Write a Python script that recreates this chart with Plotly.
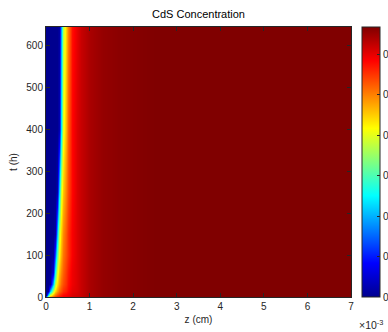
import plotly.graph_objects as go
import numpy as np

# depth positions (cm)
z_cm = [0, 0.05e-3, 0.10e-3, 0.15e-3, 0.20e-3, 0.25e-3, 0.30e-3, 0.35e-3, 0.40e-3,
        0.45e-3, 0.50e-3, 0.60e-3, 0.70e-3, 0.80e-3, 1.0e-3, 1.3e-3, 1.7e-3,
        2.5e-3, 4.0e-3, 7.0e-3]
# time (h)
t_h = [0, 5, 15, 30, 60, 100, 150, 250, 400, 645]
# concentration relative to the maximum (rows: t, columns: z)
conc_rel = [
    [0.30, 0.65, 0.75, 0.80, 0.83, 0.85, 0.86, 0.87, 0.88, 0.89, 0.90, 0.91, 0.92, 0.93, 0.96, 0.98, 0.99, 1.0, 1.0, 1.0],
    [0.00, 0.35, 0.60, 0.70, 0.76, 0.80, 0.83, 0.85, 0.87, 0.88, 0.89, 0.91, 0.92, 0.93, 0.96, 0.98, 0.99, 1.0, 1.0, 1.0],
    [0.00, 0.02, 0.30, 0.55, 0.66, 0.72, 0.77, 0.80, 0.83, 0.85, 0.87, 0.90, 0.91, 0.93, 0.96, 0.98, 0.99, 1.0, 1.0, 1.0],
    [0.00, 0.00, 0.02, 0.30, 0.55, 0.65, 0.72, 0.77, 0.80, 0.83, 0.86, 0.89, 0.91, 0.93, 0.96, 0.98, 0.99, 1.0, 1.0, 1.0],
    [0.00, 0.00, 0.00, 0.08, 0.38, 0.58, 0.68, 0.74, 0.78, 0.82, 0.85, 0.89, 0.91, 0.93, 0.96, 0.98, 0.99, 1.0, 1.0, 1.0],
    [0.00, 0.00, 0.00, 0.01, 0.20, 0.45, 0.62, 0.70, 0.76, 0.80, 0.83, 0.88, 0.91, 0.93, 0.96, 0.98, 0.99, 1.0, 1.0, 1.0],
    [0.00, 0.00, 0.00, 0.00, 0.02, 0.30, 0.56, 0.67, 0.74, 0.79, 0.83, 0.88, 0.91, 0.93, 0.96, 0.98, 0.99, 1.0, 1.0, 1.0],
    [0.00, 0.00, 0.00, 0.00, 0.00, 0.03, 0.33, 0.58, 0.68, 0.75, 0.80, 0.87, 0.91, 0.93, 0.96, 0.98, 0.99, 1.0, 1.0, 1.0],
    [0.00, 0.00, 0.00, 0.00, 0.00, 0.00, 0.04, 0.35, 0.60, 0.70, 0.78, 0.87, 0.91, 0.93, 0.96, 0.98, 0.99, 1.0, 1.0, 1.0],
    [0.00, 0.00, 0.00, 0.00, 0.00, 0.00, 0.02, 0.28, 0.55, 0.67, 0.75, 0.86, 0.90, 0.93, 0.96, 0.98, 0.99, 1.0, 1.0, 1.0],
]
c_max = 0.667
x_tick_vals = [0, 1e-3, 2e-3, 3e-3, 4e-3, 5e-3, 6e-3, 7e-3]
x_tick_text = ['0', '1', '2', '3', '4', '5', '6', '7']
y_tick_vals = [0, 100, 200, 300, 400, 500, 600]
cb_tick_vals = [0, 0.1, 0.2, 0.3, 0.4, 0.5, 0.6]

z = (np.array(conc_rel) * c_max).tolist()

jet = [[0, 'rgb(0,0,143)'], [0.125, 'rgb(0,0,255)'], [0.375, 'rgb(0,255,255)'],
       [0.625, 'rgb(255,255,0)'], [0.875, 'rgb(255,0,0)'], [1, 'rgb(128,0,0)']]

W, H = 388, 332
L, R, T, B = 46, 37, 27, 35
pw = W - L - R
FONT = 'Liberation Sans, Arial, sans-serif'

fig = go.Figure(go.Heatmap(
    x=z_cm, y=t_h, z=z, zmin=0, zmax=c_max, zsmooth='best', colorscale=jet,
    colorbar=dict(
        x=(362 - L) / pw, xanchor='left', xref='paper',
        y=0, yanchor='bottom', len=1, lenmode='fraction',
        thickness=18, outlinewidth=1, outlinecolor='#262626',
        tickvals=cb_tick_vals, ticks='inside', ticklen=3, tickcolor='#262626',
        tickfont=dict(family=FONT, size=10, color='#262626'),
        ypad=0, xpad=0,
    ),
))

axis_common = dict(showline=True, linecolor='#262626', linewidth=1, mirror='ticks',
                   ticks='inside', ticklen=4, tickcolor='#262626', showgrid=False,
                   zeroline=False, automargin=False,
                   tickfont=dict(family=FONT, size=10, color='#262626'))

fig.update_layout(
    width=W, height=H,
    margin=dict(l=L, r=R, t=T, b=B, autoexpand=False),
    paper_bgcolor='white', plot_bgcolor='white',
    title=dict(text='CdS Concentration', x=(L + pw / 2) / W, xanchor='center',
               y=1 - 14 / H, yanchor='middle',
               font=dict(family=FONT, size=11, color='#000000')),
    xaxis=dict(range=[0, 7e-3], tickvals=x_tick_vals, ticktext=x_tick_text,
               title=dict(text='z (cm)', standoff=4,
                          font=dict(family=FONT, size=10, color='#262626')),
               **axis_common),
    yaxis=dict(range=[0, 643], tickvals=y_tick_vals,
               title=dict(text='t (h)', standoff=6,
                          font=dict(family=FONT, size=10, color='#262626')),
               **axis_common),
    annotations=[dict(text='\u00d710<sup>-3</sup>', xref='paper', yref='paper',
                      x=(371 - L) / pw, y=-27 / (H - T - B), xanchor='center', yanchor='middle',
                      showarrow=False,
                      font=dict(family=FONT, size=10.5, color='#262626'))],
)

fig.write_html('out.html')
